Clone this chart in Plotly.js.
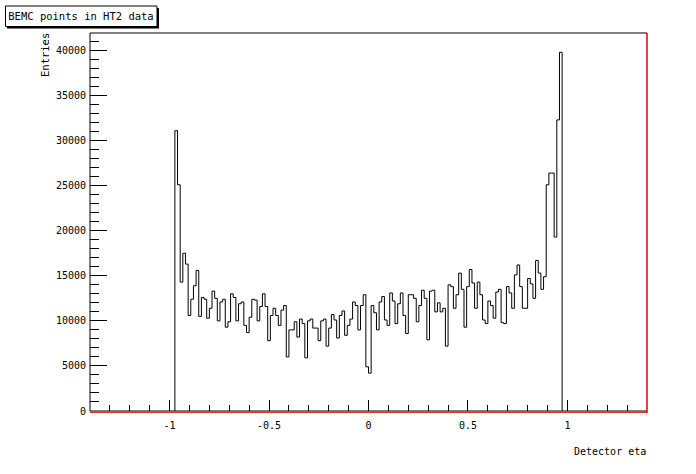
<!DOCTYPE html>
<html><head><meta charset="utf-8">
<script src="https://cdn.plot.ly/plotly-3.0.1.min.js"></script>
<style>html,body{margin:0;padding:0;background:#fff;}#chart{width:696px;height:474px;}</style>
</head><body><div id="chart"></div>
<script>
// Histogram definition (filled bins only; bins outside are empty)
const histLow = -0.973333;
const binWidth = 0.0133333;
const entries = [
 31100,25100,14300,17500,16300,10600,12400,13900,15600,10500,
 12600,12400,10300,11400,13300,12500,10000,12100,12400,9300,
 9900,13000,12600,10000,11900,12100,9500,8700,10400,12400,
 12300,10000,11600,13000,11600,7800,10600,11400,10600,9500,
 11200,11700,6000,9000,9000,9900,8200,10200,9700,5900,
 10000,10200,9200,9200,7800,10000,10200,7200,9200,10700,
 10100,8100,10600,11100,8400,9500,10200,12100,11700,9000,
 11700,12900,4900,
 4200,11700,10900,9000,12100,12700,10100,9500,13100,12200,
 9700,11900,13100,10600,8600,12900,12900,12500,9900,11700,
 13400,12500,7900,13300,13400,11000,12000,11000,11400,7200,
 14000,13800,11400,12900,15300,13500,9300,13800,15700,14200,
 11400,14300,12900,10100,9700,12200,11700,10300,13200,13500,
 9800,9700,13800,13100,11400,15100,16200,13800,11400,11400,
 14700,14100,12500,16700,15300,13500,14900,25100,26400,26400,
 19300,32300,39800
];
const xTickVals = [-1, -0.5, 0, 0.5, 1];
const xTickText = ['-1', '-0.5', '0', '0.5', '1'];
const yTickVals = [0, 5000, 10000, 15000, 20000, 25000, 30000, 35000, 40000];
const yTickText = ['0', '5000', '10000', '15000', '20000', '25000', '30000', '35000', '40000'];
const titleText = 'BEMC points in HT2 data';
const xTitle = 'Detector eta';
const yTitle = 'Entries';

const xs = [histLow], ys = [0];
for (let i = 0; i < entries.length; i++) { xs.push(histLow + i * binWidth); ys.push(entries[i]); }
xs.push(histLow + entries.length * binWidth); ys.push(0);

const W = 696, H = 474;
const mL = 90, mR = 49, mT = 33, mB = 63;
const pL = mL, pR = W - mR, pT = mT, pB = H - mB;
const px = x => (x - pL) / (pR - pL);
const py = y => (pB - y) / (pB - pT);
const FONT = 'DejaVu Sans Mono';

const shapes = [
  // frame
  {type:'line', xref:'paper', yref:'paper', x0:0, x1:1, y0:py(412.3), y1:py(412.3), line:{color:'#e00000', width:1}, layer:'above'},
  {type:'line', xref:'paper', yref:'paper', x0:0, x1:0, y0:0, y1:1, line:{color:'black', width:1}, layer:'above'},
  {type:'line', xref:'paper', yref:'paper', x0:0, x1:1, y0:1, y1:1, line:{color:'black', width:1}, layer:'above'},
  {type:'line', xref:'paper', yref:'paper', x0:0, x1:1, y0:0, y1:0, line:{color:'black', width:1}, layer:'above'},
  {type:'line', xref:'paper', yref:'paper', x0:1, x1:1, y0:py(412.8), y1:1, line:{color:'#e00000', width:1.5}, layer:'above'},
  // title box shadow and box
  {type:'rect', xref:'paper', yref:'paper', x0:px(7), x1:px(159), y0:py(8), y1:py(28.5), fillcolor:'black', line:{width:0}, layer:'above'},
  {type:'rect', xref:'paper', yref:'paper', x0:px(5.5), x1:px(157), y0:py(6), y1:py(26.5), fillcolor:'white', line:{color:'black', width:1}, layer:'above'}
];

const layout = {
  width: W, height: H,
  margin: {l: mL, r: mR, t: mT, b: mB, pad: 0},
  paper_bgcolor: 'white', plot_bgcolor: 'white',
  showlegend: false,
  font: {family: FONT, size: 10, color: 'black'},
  title: {text: titleText, xref: 'container', yref: 'container', x: 81 / W, xanchor: 'center', y: 1 - 16.5 / H, yanchor: 'middle', font: {family: FONT, size: 10.5, color: 'black'}},
  xaxis: {
    range: [-1.4, 1.4], showgrid: false, zeroline: false, showline: false,
    tickmode: 'array', tickvals: xTickVals, ticktext: xTickText,
    ticks: 'inside', ticklen: 11, tickwidth: 1, tickcolor: 'black',
    ticklabelstandoff: 7,
    tickfont: {family: FONT, size: 10, color: 'black'},
    minor: {ticks: 'inside', ticklen: 6, tickwidth: 1, tickcolor: 'black', dtick: 0.1, tick0: 0, showgrid: false}
  },
  yaxis: {
    range: [0, 41940], showgrid: false, zeroline: false, showline: false,
    tickmode: 'array', tickvals: yTickVals, ticktext: yTickText,
    ticks: 'inside', ticklen: 17, tickwidth: 1, tickcolor: 'black',
    ticklabelstandoff: 3,
    tickfont: {family: FONT, size: 10, color: 'black'},
    minor: {ticks: 'inside', ticklen: 9, tickwidth: 1, tickcolor: 'black', dtick: 1000, tick0: 0, showgrid: false}
  },
  shapes: shapes,
  annotations: [
    {text: yTitle, xref: 'paper', yref: 'paper', x: px(45), y: py(55), xanchor: 'center', yanchor: 'middle', textangle: -90, showarrow: false, font: {family: FONT, size: 10.5, color: 'black'}},
    {text: xTitle, xref: 'paper', yref: 'paper', x: px(648), y: py(451), xanchor: 'right', yanchor: 'middle', showarrow: false, font: {family: FONT, size: 10, color: 'black'}}
  ]
};

const trace = {
  type: 'scatter', mode: 'lines', x: xs, y: ys,
  line: {shape: 'hv', color: 'black', width: 1},
  hoverinfo: 'skip'
};

Plotly.newPlot('chart', [trace], layout, {staticPlot: true, displayModeBar: false});
</script>
</body></html>
